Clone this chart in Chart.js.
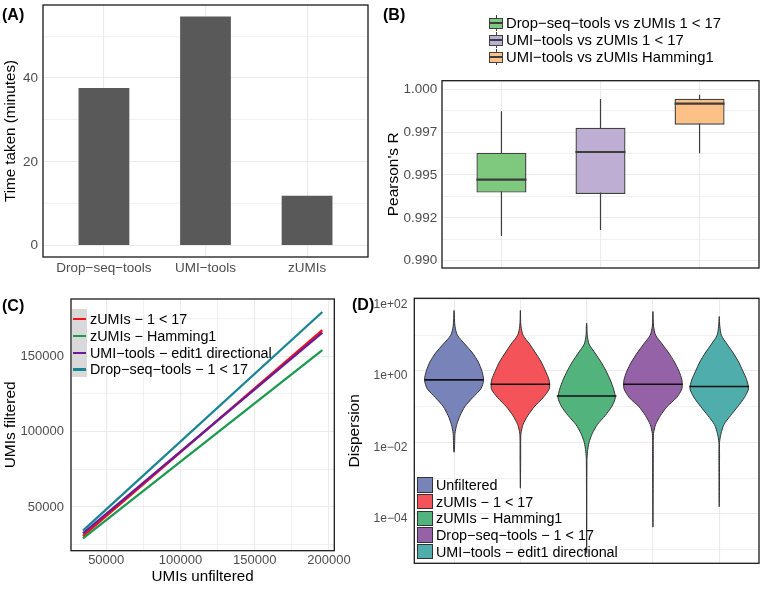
<!DOCTYPE html>
<html><head><meta charset="utf-8">
<script src="https://cdn.jsdelivr.net/npm/chart.js@4/dist/chart.umd.min.js"></script>
<style>
html,body{margin:0;padding:0;background:#fff;}
body{width:764px;height:589px;position:relative;overflow:hidden;font-family:"Liberation Sans",Arial,Helvetica,sans-serif;}
canvas{position:absolute;}
.plab{position:absolute;font-weight:bold;font-size:16px;line-height:16px;color:#000;transform:translateY(-50%);}
.lg{position:absolute;font-size:14.35px;line-height:14px;color:#000;white-space:nowrap;transform:translateY(-50%);}
.lgb{font-size:14.8px;}
.key{position:absolute;box-sizing:border-box;}
</style></head><body>
<canvas id="cA" width="380" height="290" style="left:0;top:0;width:380px;height:290px"></canvas>
<canvas id="cB" width="384" height="290" style="left:380px;top:0;width:384px;height:290px"></canvas>
<canvas id="cC" width="380" height="299" style="left:0;top:290px;width:380px;height:299px"></canvas>
<canvas id="cD" width="424" height="299" style="left:340px;top:290px;width:424px;height:299px"></canvas>
<div class="plab" style="left:2px;top:15px">(A)</div>
<div class="plab" style="left:383px;top:15px">(B)</div>
<div class="plab" style="left:2px;top:306px">(C)</div>
<div class="plab" style="left:352px;top:305px">(D)</div>
<div id="legends"></div>
<script>
// ---------------- Panel A: time taken ----------------
const timeCategories = ['Drop−seq−tools', 'UMI−tools', 'zUMIs'];
const timeMinutes = [37.6, 54.7, 11.9];
const timeTickValues = [0, 20, 40];
const timeMinorValues = [10, 30, 50];

// ---------------- Panel B: Pearson's R boxplots ----------------
const pearsonGroups = ['Drop−seq−tools vs zUMIs 1 < 17', 'UMI−tools vs zUMIs 1 < 17', 'UMI−tools vs zUMIs Hamming1'];
const pearsonLow    = [0.99144, 0.99179, 0.99627];
const pearsonQ1     = [0.99397, 0.99389, 0.99793];
const pearsonMedian = [0.99473, 0.99634, 0.99916];
const pearsonQ3     = [0.99630, 0.99776, 0.99945];
const pearsonHigh   = [0.99872, 0.99943, 0.99968];
const pearsonTickValues = [0.99, 0.9925, 0.995, 0.9975, 1.0];
const pearsonTickLabels = ['0.990', '0.992', '0.995', '0.997', '1.000'];
const pearsonMinorValues = [0.99125, 0.99375, 0.99625, 0.99875];

// ---------------- Panel C: UMIs filtered vs unfiltered ----------------
const umiSeries = ['zUMIs − 1 < 17', 'zUMIs − Hamming1', 'UMI−tools − edit1 directional', 'Drop−seq−tools − 1 < 17'];
const umiUnfiltered = [34340, 195560];
const umiZumis117   = [30680, 167470];
const umiZumisHam1  = [29220, 154130];
const umiUmiTools   = [32540, 165700];
const umiDropSeq    = [34260, 179420];
const umiXTickValues = [50000, 100000, 150000, 200000];
const umiXMinorValues = [75000, 125000, 175000];
const umiYTickValues = [50000, 100000, 150000];
const umiYMinorValues = [25000, 75000, 125000, 175000];

// ---------------- Panel D: dispersion violins ----------------
const dispGroups = ['Unfiltered', 'zUMIs − 1 < 17', 'zUMIs − Hamming1', 'Drop−seq−tools − 1 < 17', 'UMI−tools − edit1 directional'];
// log10(dispersion) levels at which violin widths were read (percent of max width)
const dispLevels = [1.25, 1.0, 0.75, 0.5, 0.25, 0, -0.25, -0.5, -0.75, -1.0, -1.25, -1.5, -1.75, -2.0, -2.25, -2.5];
const widthUnfiltered = [3, 11, 36, 62, 81, 93, 99, 90, 62, 36, 20, 9, 3, 2, 1];
const widthZumis117   = [2, 9, 31, 51, 70, 84, 96, 97, 76, 47, 25, 9, 2, 1, 1, 1];
const widthZumisHam1  = [1, 2, 8, 28, 48, 65, 79, 90, 96, 84, 62, 36, 19, 8, 3, 1];
const widthDropSeq    = [2, 9, 31, 53, 72, 87, 97, 97, 79, 47, 25, 9, 2, 1, 1, 1];
const widthUmiTools   = [2, 7, 26, 47, 65, 79, 92, 98, 84, 62, 38, 16, 6, 1, 1, 1];
const dispTopLog    = [1.69, 1.69, 1.333, 1.66, 1.52];
const dispBottomLog = [-2.275, -3.28, -5.1, -4.37, -3.8];
const dispMedianLog = [-0.25, -0.373, -0.70, -0.373, -0.438];
const dispMedianWidth = [99, 100, 100, 100, 100];
const dispTickExponents = [2, 0, -2, -4];
const dispTickLabels = ['1e+02', '1e+00', '1e−02', '1e−04'];
const dispMinorExponents = [1, -1, -3, -5];

// ---------------- styles ----------------
const GRID = '#ebebeb';
const TICK = '#4d4d4d';
const pearsonColors = ['#7fc97f', '#beaed4', '#fdc086'];
const umiColors = ['#f21318', '#1a9a4f', '#6a1b9a', '#1a8590'];
const dispColors = ['#7884b9', '#f45459', '#52b37d', '#9561a7', '#4fadab'];

Chart.defaults.font.family = "'Liberation Sans', Arial, Helvetica, sans-serif";
Chart.defaults.color = TICK;

const borderPlugin = {
  id: 'panelBorder',
  afterDatasetsDraw(chart) {
    const {ctx, chartArea: a} = chart;
    ctx.save();
    ctx.strokeStyle = '#1a1a1a';
    ctx.lineWidth = 1.3;
    ctx.strokeRect(a.left, a.top, a.right - a.left, a.bottom - a.top);
    ctx.restore();
  }
};
function fitW(w) { return s => { s.width = w; s.paddingTop = 0; s.paddingBottom = 0; s.paddingLeft = 0; s.paddingRight = 0; }; }
function fitH(h) { return s => { s.height = h; s.paddingTop = 0; s.paddingBottom = 0; s.paddingLeft = 0; s.paddingRight = 0; }; }
function gridFor(minor) {
  return { color: GRID, drawTicks: false, offset: false,
    lineWidth: c => (c.tick && minor.some(m => Math.abs(m - c.tick.value) < 1e-9 * Math.max(1, Math.abs(m)))) ? 0.7 : 1.1 };
}
function setTicks(values) { return s => { s.ticks = values.slice().sort((a, b) => a - b).map(v => ({value: v})); }; }
const baseOpts = { responsive: false, animation: false, plugins: { legend: {display: false}, tooltip: {enabled: false} } };

// ---------------- Panel A ----------------
new Chart(document.getElementById('cA'), {
  type: 'bar',
  data: { datasets: [{
    data: timeMinutes.map((v, i) => ({x: i + 1, y: v})),
    backgroundColor: '#595959', barPercentage: 0.5, categoryPercentage: 1
  }] },
  options: Object.assign({}, baseOpts, {
    layout: { padding: { left: 0, top: 5, right: 12, bottom: 0 } },
    scales: {
      x: { type: 'linear', min: 0.4, max: 3.6, offset: false,
        grid: gridFor([]), border: {display: false},
        afterBuildTicks: setTicks(timeCategories.map((c, i) => i + 1)),
        ticks: { autoSkip: false, maxRotation: 0, padding: 3, font: {size: 13.5}, color: TICK,
          callback: v => timeCategories[Math.round(v) - 1] },
        afterFit: fitH(33) },
      y: { type: 'linear', min: -2.735, max: 57.435,
        grid: gridFor(timeMinorValues), border: {display: false},
        afterBuildTicks: setTicks(timeTickValues.concat(timeMinorValues)),
        ticks: { padding: 5, font: {size: 13.5}, color: TICK,
          callback: v => timeTickValues.includes(v) ? String(v) : '' },
        title: { display: true, text: 'Time taken (minutes)', color: '#000', font: {size: 15.2, lineHeight: 1}, padding: {top: 3.5, bottom: 0} },
        afterFit: fitW(43) }
    }
  }),
  plugins: [borderPlugin]
});

// ---------------- Panel B ----------------
const bDatasets = [];
pearsonGroups.forEach((g, i) => {
  bDatasets.push({ type: 'line', order: 10, data: [{x: i + 1, y: pearsonLow[i]}, {x: i + 1, y: pearsonHigh[i]}],
    borderColor: '#3d3d3d', borderWidth: 1.2, pointRadius: 0, fill: false });
});
bDatasets.push({ type: 'bar', order: 5,
  data: pearsonGroups.map((g, i) => ({x: i + 1, y: [pearsonQ1[i], pearsonQ3[i]]})),
  backgroundColor: pearsonColors, borderColor: '#424242', borderWidth: 1.4, borderSkipped: false,
  barPercentage: 0.505, categoryPercentage: 1 });
pearsonGroups.forEach((g, i) => {
  bDatasets.push({ type: 'line', order: 0, data: [{x: i + 1 - 0.2525, y: pearsonMedian[i]}, {x: i + 1 + 0.2525, y: pearsonMedian[i]}],
    borderColor: '#3d3d3d', borderWidth: 2.2, pointRadius: 0, fill: false });
});
new Chart(document.getElementById('cB'), {
  type: 'bar',
  data: { datasets: bDatasets },
  options: Object.assign({}, baseOpts, {
    layout: { padding: { left: 0, top: 80.7, right: 5, bottom: 0 } },
    scales: {
      x: { type: 'linear', min: 0.4, max: 3.6, offset: false,
        grid: gridFor([]), border: {display: false},
        afterBuildTicks: setTicks([1, 2, 3]),
        ticks: { display: false },
        afterFit: fitH(22) },
      y: { type: 'linear', min: 0.98957, max: 1.0005, beginAtZero: false,
        grid: gridFor(pearsonMinorValues), border: {display: false},
        afterBuildTicks: setTicks(pearsonTickValues.concat(pearsonMinorValues)),
        ticks: { padding: 4.7, font: {size: 13.5}, color: TICK,
          callback: v => { const k = pearsonTickValues.findIndex(t => Math.abs(t - v) < 1e-9); return k >= 0 ? pearsonTickLabels[k] : ''; } },
        title: { display: true, text: "Pearson's R", color: '#000', font: {size: 15.5, lineHeight: 1}, padding: {top: 6.2, bottom: 0} },
        afterFit: fitW(62) }
    }
  }),
  plugins: [borderPlugin]
});

// ---------------- Panel C ----------------
const umiValues = [umiZumis117, umiZumisHam1, umiUmiTools, umiDropSeq];
new Chart(document.getElementById('cC'), {
  type: 'line',
  data: { datasets: umiSeries.map((s, i) => ({
    label: s, order: umiSeries.length - 1 - i,
    data: umiUnfiltered.map((x, k) => ({x: x, y: umiValues[i][k]})),
    borderColor: umiColors[i], borderWidth: 2.3, pointRadius: 0, fill: false, tension: 0
  })) },
  options: Object.assign({}, baseOpts, {
    layout: { padding: { left: 0, top: 9, right: 45.7, bottom: 0 } },
    scales: {
      x: { type: 'linear', min: 26280, max: 203620,
        grid: gridFor(umiXMinorValues), border: {display: false},
        afterBuildTicks: setTicks(umiXTickValues.concat(umiXMinorValues)),
        ticks: { autoSkip: false, maxRotation: 0, padding: 1.5, font: {size: 13}, color: TICK,
          callback: v => umiXTickValues.includes(v) ? String(v) : '' },
        title: { display: true, text: 'UMIs unfiltered', color: '#000', font: {size: 15.2, lineHeight: 1}, padding: {top: 0, bottom: 4.5} },
        afterFit: fitH(38.3) },
      y: { type: 'linear', min: 20980, max: 188050,
        grid: gridFor(umiYMinorValues), border: {display: false},
        afterBuildTicks: setTicks(umiYTickValues.concat(umiYMinorValues)),
        ticks: { padding: 7, font: {size: 13}, color: TICK,
          callback: v => umiYTickValues.includes(v) ? String(v) : '' },
        title: { display: true, text: 'UMIs filtered', color: '#000', font: {size: 15.5, lineHeight: 1}, padding: {top: 3, bottom: 0} },
        afterFit: fitW(71) }
    }
  }),
  plugins: [borderPlugin]
});

// ---------------- Panel D ----------------
const dispWidths = [widthUnfiltered, widthZumis117, widthZumisHam1, widthDropSeq, widthUmiTools];
const HALF = 0.45;
function violinOutline(i) {
  const c = i + 1, w = dispWidths[i], right = [], left = [];
  dispLevels.forEach((L, k) => {
    if (k < w.length && L < dispTopLog[i] && L > dispBottomLog[i]) {
      right.push({x: c + HALF * w[k] / 100, y: Math.pow(10, L)});
      left.push({x: c - HALF * w[k] / 100, y: Math.pow(10, L)});
    }
  });
  const top = {x: c, y: Math.pow(10, dispTopLog[i])};
  const bot = {x: c, y: Math.pow(10, dispBottomLog[i])};
  return [top].concat(right, [bot], left.reverse(), [top]);
}
const dDatasets = [];
dispGroups.forEach((g, i) => {
  dDatasets.push({ label: g, order: 10, data: violinOutline(i), backgroundColor: dispColors[i],
    borderColor: '#333333', borderWidth: 1, pointRadius: 0, fill: 'shape', tension: 0.25 });
});
dispGroups.forEach((g, i) => {
  const m = Math.pow(10, dispMedianLog[i]), hw = HALF * dispMedianWidth[i] / 100;
  dDatasets.push({ order: 0, data: [{x: i + 1 - hw, y: m}, {x: i + 1 + hw, y: m}],
    borderColor: '#111111', borderWidth: 1.6, pointRadius: 0, fill: false });
});
new Chart(document.getElementById('cD'), {
  type: 'line',
  data: { datasets: dDatasets },
  options: Object.assign({}, baseOpts, {
    layout: { padding: { left: 0, top: 8.3, right: 5, bottom: 0 } },
    scales: {
      x: { type: 'linear', min: 0.4, max: 5.6,
        grid: gridFor([]), border: {display: false},
        afterBuildTicks: setTicks([1, 2, 3, 4, 5]),
        ticks: { display: false },
        afterFit: fitH(25.7) },
      y: { type: 'logarithmic', min: Math.pow(10, -5.38), max: Math.pow(10, 2.03),
        grid: { color: GRID, drawTicks: false,
          lineWidth: c => (c.tick && dispMinorExponents.includes(Math.round(Math.log10(c.tick.value)))) ? 0.7 : 1.1 },
        border: {display: false},
        afterBuildTicks: s => { s.ticks = dispTickExponents.concat(dispMinorExponents).sort((a, b) => a - b).map(e => ({value: Math.pow(10, e)})); },
        ticks: { padding: 7, labelOffset: 5, font: {size: 12}, color: TICK,
          callback: v => { const k = dispTickExponents.indexOf(Math.round(Math.log10(v))); return k >= 0 ? dispTickLabels[k] : ''; } },
        title: { display: true, text: 'Dispersion', color: '#000', font: {size: 15.5, lineHeight: 1}, padding: {top: 7.2, bottom: 0} },
        afterFit: fitW(74.3) }
    }
  }),
  plugins: [borderPlugin]
});

// ---------------- HTML legends ----------------
const L = document.getElementById('legends');
function el(cls, style, text) {
  const d = document.createElement('div');
  d.className = cls; d.setAttribute('style', style);
  if (text !== undefined) d.textContent = text;
  L.appendChild(d); return d;
}
// B legend
pearsonGroups.forEach((g, i) => {
  const cy = 23.3 + 17 * i;
  el('key', `left:495.8px;top:${cy - 8}px;width:1.2px;height:16px;background:#3d3d3d`);
  el('key', `left:489.3px;top:${cy - 5.5}px;width:14px;height:11px;background:${pearsonColors[i]};border:1.2px solid #424242`);
  el('key', `left:489.3px;top:${cy - 1}px;width:14px;height:2px;background:#3d3d3d`);
  el('lg lgb', `left:506px;top:${cy}px`, g);
});
// C legend
el('key', 'left:72px;top:309.3px;width:15px;height:68px;background:#d9d9d9');
umiSeries.forEach((s, i) => {
  const cy = 319.3 + 16.7 * i;
  el('key', `left:72.7px;top:${cy - 1.15}px;width:13.3px;height:2.3px;background:${umiColors[i]}`);
  el('lg', `left:90px;top:${cy}px`, s);
});
// D legend
dispGroups.forEach((g, i) => {
  const top = 477.3 + 16.7 * i;
  el('key', `left:417.3px;top:${top}px;width:15.4px;height:15.4px;background:${dispColors[i]};border:1px solid #333`);
  el('lg', `left:436px;top:${top + 7.7}px`, g);
});
</script>
</body></html>
